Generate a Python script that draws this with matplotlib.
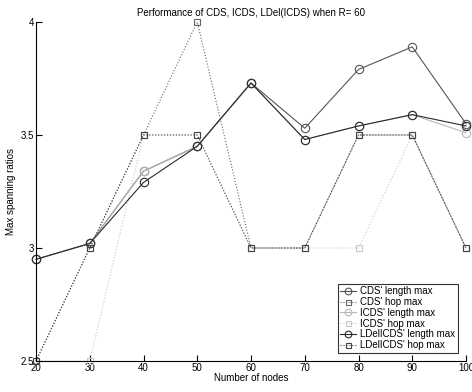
import matplotlib
matplotlib.use("Agg")
import matplotlib.pyplot as plt

nodes = [20, 30, 40, 50, 60, 70, 80, 90, 100]
cds_len = [2.95, 3.02, 3.34, 3.45, 3.73, 3.53, 3.79, 3.89, 3.55]
cds_hop = [2.5, 3.0, 3.5, 4.0, 3.0, 3.0, 3.5, 3.5, 3.0]
icds_len = [2.95, 3.02, 3.34, 3.45, 3.73, 3.48, 3.54, 3.59, 3.51]
icds_hop = [2.5, 2.5, 3.5, 3.5, 3.0, 3.0, 3.0, 3.5, 3.0]
ldel_len = [2.95, 3.02, 3.29, 3.45, 3.73, 3.48, 3.54, 3.59, 3.54]
ldel_hop = [2.5, 3.0, 3.5, 3.5, 3.0, 3.0, 3.5, 3.5, 3.0]

labels = ["CDS' length max", "CDS' hop max", "ICDS' length max",
          "ICDS' hop max", "LDelICDS' length max", "LDelICDS' hop max"]

plt.rcParams['font.family'] = ['Liberation Sans', 'DejaVu Sans']
fig = plt.figure(figsize=(4.72, 3.92), dpi=100)
ax = fig.add_axes([36/472, 1-361/392, 430/472, 339/392])

series = [
    (cds_len, '-', 'o', '#555555', labels[0]),
    (cds_hop, ':', 's', '#666666', labels[1]),
    (icds_len, '-', 'o', '#b8b8b8', labels[2]),
    (icds_hop, ':', 's', '#c8c8c8', labels[3]),
    (ldel_len, '-', 'o', '#2a2a2a', labels[4]),
    (ldel_hop, ':', 's', '#444444', labels[5]),
]
for vals, ls, mk, col, lab in series:
    ax.plot(nodes, vals, linestyle=ls, marker=mk, color=col, lw=0.8,
            markersize=6 if mk == 'o' else 4.5, markerfacecolor='none',
            markeredgecolor=col, markeredgewidth=0.8, label=lab, clip_on=False)

ax.set_xlim(20, 100)
ax.set_ylim(2.5, 4)
ax.set_xticks([20, 30, 40, 50, 60, 70, 80, 90, 100])
ax.set_yticks([2.5, 3, 3.5, 4])
ax.set_yticklabels(['2.5', '3', '3.5', '4'])
for s in ['top', 'right']:
    ax.spines[s].set_visible(False)
for s in ['left', 'bottom']:
    ax.spines[s].set_linewidth(0.8)
ax.tick_params(direction='in', length=4, width=0.8, labelsize=7, pad=1.5)
ax.set_title("Performance of CDS, ICDS, LDel(ICDS) when R= 60", fontsize=7, pad=4)
ax.set_xlabel("Number of nodes", fontsize=7, labelpad=0)
ax.set_ylabel("Max spanning ratios", fontsize=7)
ax.yaxis.set_label_coords(-20/430, 0.5)
leg = ax.legend(loc='lower right', bbox_to_anchor=(0.981, 0.025), fontsize=7,
                frameon=True, fancybox=False, edgecolor='black',
                handlelength=1.6, borderpad=0.25, labelspacing=0.08,
                handletextpad=0.5, borderaxespad=0, markerscale=0.8)
leg.get_frame().set_linewidth(0.8)
fig.savefig("out.png", dpi=100)
